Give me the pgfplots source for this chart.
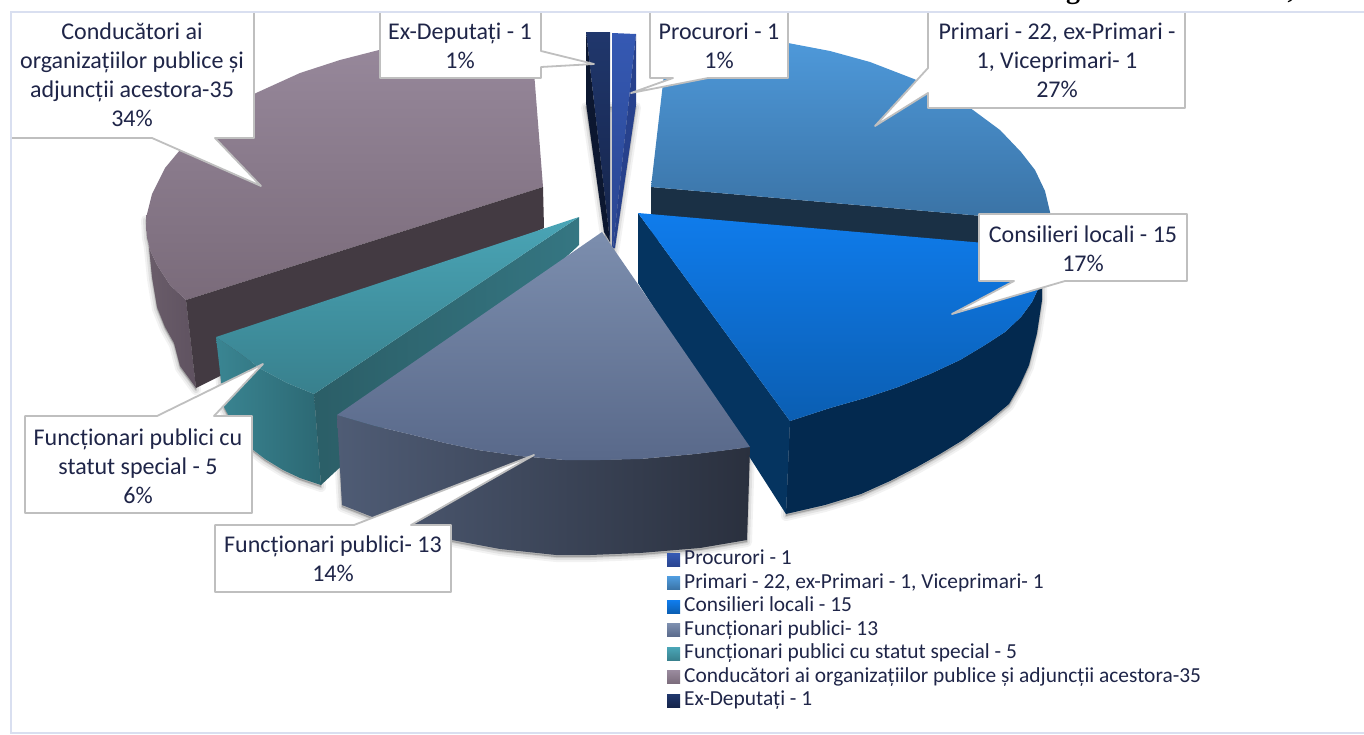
\documentclass[border=0pt]{standalone}
\usepackage{fontspec}
\setmainfont{Carlito}
\newfontfamily\titlefont{Liberation Serif}
\usepackage{pgfplots}
\usepackage{pgfplotstable}
\pgfplotsset{compat=1.18}

\definecolor{txt}{HTML}{1F2548}
\definecolor{frame}{HTML}{D9DFF0}
\definecolor{callout}{HTML}{BFBFBF}
\definecolor{purpleA}{HTML}{98899C}
\definecolor{purpleB}{HTML}{7A6B7A}
\definecolor{purpleC}{HTML}{6A5D6A}
\definecolor{purpleD}{HTML}{5F5260}
\definecolor{purpleCutc}{HTML}{433A42}
\definecolor{primA}{HTML}{4F9BDD}
\definecolor{primB}{HTML}{3A72A4}
\definecolor{primCutc}{HTML}{1A3045}
\definecolor{depA}{HTML}{20376C}
\definecolor{depB}{HTML}{15244A}
\definecolor{depC}{HTML}{0C1730}
\definecolor{procA}{HTML}{3559B3}
\definecolor{procB}{HTML}{2A4590}
\definecolor{procC}{HTML}{27418C}
\definecolor{tealA}{HTML}{4AA5B6}
\definecolor{tealB}{HTML}{38808D}
\definecolor{tealC}{HTML}{3A8592}
\definecolor{tealD}{HTML}{2C6873}
\definecolor{tealE}{HTML}{2B5E67}
\definecolor{tealF}{HTML}{357682}
\definecolor{consA}{HTML}{0F7CEC}
\definecolor{consB}{HTML}{0B5EB2}
\definecolor{consC}{HTML}{03294F}
\definecolor{consD}{HTML}{053460}
\definecolor{grayA}{HTML}{7C8EAE}
\definecolor{grayB}{HTML}{59698A}
\definecolor{grayC}{HTML}{4F5C75}
\definecolor{grayD}{HTML}{30394B}
\definecolor{grayE}{HTML}{2A303E}

% polygons, in image pixels (y downwards)
\pgfplotstableread[row sep=\\]{x y\\
543 187\\ 531 33\\ 490 34\\ 440 39\\ 379 50\\ 340 60\\ 300 73\\ 256 93\\ 220 114\\ 190 138\\ 165 168\\ 152 194\\ 146 218\\ 147 236\\ 150 250\\ 157 265\\ 170 285\\ 186 300\\
}\purpleTop
\pgfplotstableread[row sep=\\]{x y\\
146 218\\ 147 236\\ 150 250\\ 157 265\\ 170 285\\ 186 300\\ 196 388\\ 180 366\\ 174 343\\ 165 327\\ 157 307\\ 152 277\\ 149 247\\
}\purpleWall
\pgfplotstableread[row sep=\\]{x y\\
543 187\\ 186 300\\ 196 388\\ 224 374\\ 544 228\\
}\purpleCut
\pgfplotstableread[row sep=\\]{x y\\
651 187\\ 669 31\\ 700 32\\ 740 36\\ 788 43\\ 830 51\\ 870 62\\ 914 79\\ 945 93\\ 973 110\\ 1000 130\\ 1021 152\\ 1035 170\\ 1045 191\\ 1050 212\\ 1051 222\\
}\primariTop
\pgfplotstableread[row sep=\\]{x y\\
651 187\\ 1051 222\\ 1048 262\\ 651 240\\
}\primariCut
\pgfplotstableread[row sep=\\]{x y\\
638 213\\ 1042 248\\ 1041 278\\ 1040 285\\ 1032 302\\ 1021 317\\ 1005 332\\ 985 345\\ 960 360\\ 930 374\\ 898 387\\ 865 398\\ 830 408\\ 790 421\\
}\consTop
\pgfplotstableread[row sep=\\]{x y\\
790 421\\ 830 408\\ 865 398\\ 898 387\\ 930 374\\ 960 360\\ 985 345\\ 1005 332\\ 1021 317\\ 1032 302\\ 1040 285\\ 1042 250\\ 1042 300\\ 1037 333\\ 1029 365\\ 1020 385\\ 1009 404\\ 990 420\\ 963 440\\ 940 454\\ 917 467\\ 890 481\\ 861 494\\ 825 505\\ 786 514\\
}\consWall
\pgfplotstableread[row sep=\\]{x y\\
638 213\\ 790 421\\ 786 514\\ 638 283\\
}\consCut
\pgfplotstableread[row sep=\\]{x y\\
602 232\\ 750 447\\ 720 451\\ 695 454\\ 640 459\\ 600 460\\ 565 460\\ 520 456\\ 478 450\\ 445 443\\ 413 435\\ 375 426\\ 337 415\\
}\grayTop
\pgfplotstableread[row sep=\\]{x y\\
337 415\\ 375 426\\ 413 435\\ 445 443\\ 478 450\\ 520 456\\ 565 460\\ 640 459\\ 695 454\\ 750 447\\ 747 540\\ 700 548\\ 640 553\\ 590 555\\ 556 555\\ 500 549\\ 452 540\\ 413 530\\ 375 518\\ 342 505\\
}\grayWall
\pgfplotstableread[row sep=\\]{x y\\
579 217\\ 216 337\\ 238 352\\ 261 369\\ 287 383\\ 314 394\\
}\tealTop
\pgfplotstableread[row sep=\\]{x y\\
216 337\\ 238 352\\ 261 369\\ 287 383\\ 314 394\\ 321 485\\ 300 478\\ 283 470\\ 265 459\\ 252 449\\ 236 430\\ 224 407\\
}\tealWall
\pgfplotstableread[row sep=\\]{x y\\
579 217\\ 579 245\\ 321 485\\ 314 394\\
}\tealCut
\pgfplotstableread[row sep=\\]{x y\\
586 32\\ 610 32\\ 610 242\\
}\depTop
\pgfplotstableread[row sep=\\]{x y\\
586 32\\ 610 242\\ 604 232\\ 586 103\\
}\depSide
\pgfplotstableread[row sep=\\]{x y\\
612 33\\ 636 34\\ 613 248\\ 612 246\\
}\procTop
\pgfplotstableread[row sep=\\]{x y\\
636 34\\ 636 105\\ 615 248\\ 613 248\\
}\procSide
\pgfplotstableread[row sep=\\]{x y\\
586 105\\ 636 105\\ 614 250\\ 606 240\\
}\slimShadow

% callouts
\pgfplotstableread[row sep=\\]{x y\\
11 12\\ 254 12\\ 254 138\\ 215 138\\ 261 186\\ 152 138\\ 11 138\\
}\boxCond
\pgfplotstableread[row sep=\\]{x y\\
380 12\\ 541 12\\ 541 51\\ 594 64\\ 541 67\\ 541 78\\ 380 78\\
}\boxDep
\pgfplotstableread[row sep=\\]{x y\\
650 12\\ 788 12\\ 788 78\\ 708 78\\ 631 93\\ 673 78\\ 650 78\\
}\boxProc
\pgfplotstableread[row sep=\\]{x y\\
928 12\\ 1185 12\\ 1185 108\\ 928 108\\ 928 93\\ 875 126\\ 928 68\\
}\boxPrim
\pgfplotstableread[row sep=\\]{x y\\
979 214\\ 1187 214\\ 1187 281\\ 1065 281\\ 952 314\\ 1014 281\\ 979 281\\
}\boxCons
\pgfplotstableread[row sep=\\]{x y\\
25 416\\ 157 416\\ 263 364\\ 214 416\\ 252 416\\ 252 513\\ 25 513\\
}\boxStat
\pgfplotstableread[row sep=\\]{x y\\
215 525\\ 354 525\\ 534 455\\ 411 525\\ 451 525\\ 451 592\\ 215 592\\
}\boxFunc
\pgfplotstableread[row sep=\\]{x y\\
1364 12\\ 11 12\\ 11 733\\ 1364 733\\
}\outerFrame

% soft drop shadow: a few transparent layers of the same outline
\newcommand{\softshadow}[1]{%
  \addplot[forget plot, draw=black, fill=black, opacity=.05, line width=10pt, line join=round, yshift=-2pt] table {#1} -- cycle;
  \addplot[forget plot, draw=black, fill=black, opacity=.07, line width=6pt, line join=round, yshift=-2pt] table {#1} -- cycle;
  \addplot[forget plot, draw=black, fill=black, opacity=.10, line width=2pt, line join=round, yshift=-2pt] table {#1} -- cycle;
}
\newcommand{\facet}[2]{\addplot[forget plot, draw=none, #1] table {#2};}
\newcommand{\calloutbox}[1]{\addplot[forget plot, draw=callout, line width=1.8pt, fill=white, line join=round] table {#1} -- cycle;}

% the plot's options reach every path of the image, so the spacer switches shading off
\pgfplotsset{
  swatch/.style={legend image code/.code={
    \path[shade=false, draw=none, fill=none] (0pt,-6.5pt) rectangle (17pt,6.5pt);
    \path[draw=none,##1] (0pt,-6.5pt) rectangle (13pt,6.5pt);}},
}

\begin{document}
\begin{tikzpicture}
\path[use as bounding box] (0,0) rectangle (1364pt,734pt);
\begin{axis}[
  scale only axis, width=1364pt, height=734pt,
  xmin=0, xmax=1364, ymin=0, ymax=734, y dir=reverse,
  hide axis,
  legend cell align=left,
  legend style={
    at={(axis cs:667,548)}, anchor=north west,
    draw=none, fill=none, inner sep=0pt, row sep=0pt,
    font=\fontsize{21.4}{23}\selectfont\color{txt},
    nodes={inner sep=0pt, text height=16.5pt, text depth=7pt},
  },
]
% shadows under the walls
\softshadow{\purpleWall}
\softshadow{\slimShadow}
\softshadow{\tealWall}
\softshadow{\grayWall}
\softshadow{\consWall}

% conducatori
\facet{left color=purpleC, right color=purpleD}{\purpleWall}
\facet{top color=purpleA, bottom color=purpleB}{\purpleTop}
\facet{fill=purpleCutc}{\purpleCut}
% primari
\facet{fill=primCutc}{\primariCut}
\facet{top color=primA, bottom color=primB}{\primariTop}
% the two thin slices
\facet{top color=depA, bottom color=depB}{\depTop}
\facet{fill=depC}{\depSide}
\facet{top color=procA, bottom color=procB}{\procTop}
\facet{fill=procC}{\procSide}
% statut special
\facet{left color=tealC, right color=tealD}{\tealWall}
\facet{left color=tealE, right color=tealF}{\tealCut}
\facet{top color=tealA, bottom color=tealB}{\tealTop}
% consilieri
\facet{fill=consC}{\consWall}
\facet{fill=consD}{\consCut}
\facet{top color=consA, bottom color=consB}{\consTop}
% functionari publici
\facet{left color=grayC, middle color=grayD, right color=grayE}{\grayWall}
\facet{top color=grayA, bottom color=grayB}{\grayTop}

% callouts
\calloutbox{\boxCond}
\calloutbox{\boxDep}
\calloutbox{\boxProc}
\calloutbox{\boxPrim}
\calloutbox{\boxCons}
\calloutbox{\boxStat}
\calloutbox{\boxFunc}

% frame
\addplot[forget plot, draw=frame, line width=1.8pt] table {\outerFrame};

\begin{scope}[every node/.style={font=\fontsize{24}{29}\selectfont, text=txt, align=center, inner sep=0pt}]
\node at (axis cs:132,75) {Conducători ai\\organizațiilor publice și\\adjuncții acestora-35\\34\%};
\node at (axis cs:460,46) {Ex-Deputați - 1\\1\%};
\node at (axis cs:719,46) {Procurori - 1\\1\%};
\node at (axis cs:1057,60) {Primari - 22, ex-Primari -\\1, Viceprimari- 1\\27\%};
\node at (axis cs:1083,248.5) {Consilieri locali - 15\\17\%};
\node at (axis cs:138,466) {Funcționari publici cu\\statut special - 5\\6\%};
\node at (axis cs:333,559) {Funcționari publici- 13\\14\%};
\end{scope}

% what is left of the cropped title above the chart
\node[overlay, anchor=base, inner sep=0pt, font=\titlefont\bfseries\fontsize{28}{30}\selectfont] at (axis cs:1073,-2) {g};
\node[overlay, anchor=base, inner sep=0pt, font=\titlefont\bfseries\fontsize{28}{30}\selectfont] at (axis cs:1291,-2) {,};

% legend
\addlegendimage{swatch, top color=procA, bottom color=procB}
\addlegendimage{swatch, top color=primA, bottom color=primB}
\addlegendimage{swatch, top color=consA, bottom color=consB}
\addlegendimage{swatch, top color=grayA, bottom color=grayB}
\addlegendimage{swatch, top color=tealA, bottom color=tealB}
\addlegendimage{swatch, top color=purpleA, bottom color=purpleB}
\addlegendimage{swatch, top color=depA, bottom color=depB}
\legend{Procurori - 1, {Primari - 22, ex-Primari - 1, Viceprimari- 1}, Consilieri locali - 15, Funcționari publici- 13, Funcționari publici cu statut special - 5, Conducători ai organizațiilor publice și adjuncții acestora-35, Ex-Deputați - 1}
\end{axis}
\end{tikzpicture}
\end{document}
